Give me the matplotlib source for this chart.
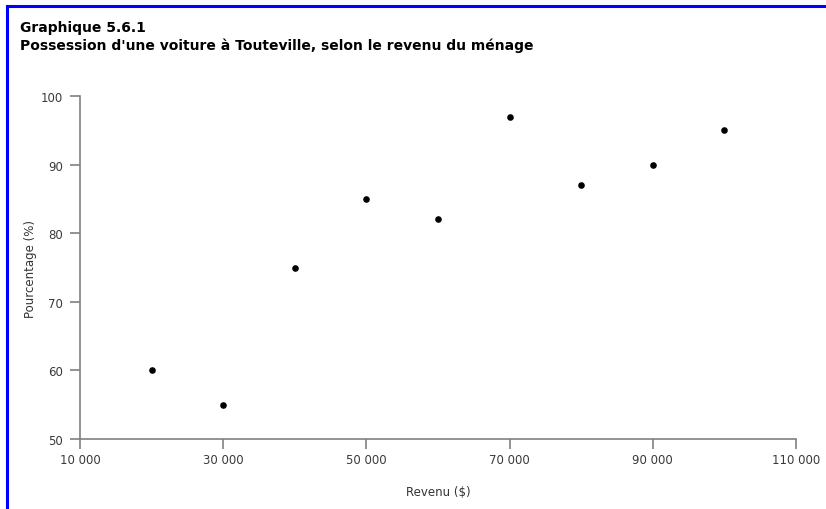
import matplotlib
matplotlib.use("Agg")
import matplotlib.pyplot as plt
from matplotlib.lines import Line2D
from matplotlib.ticker import FuncFormatter

revenu = [20000, 30000, 40000, 50000, 60000, 70000, 80000, 90000, 100000]
pourcentage = [60, 55, 75, 85, 82, 97, 87, 90, 95]
x_ticks = [10000, 30000, 50000, 70000, 90000, 110000]
y_ticks = [50, 60, 70, 80, 90, 100]

fig = plt.figure(figsize=(8.26, 5.10), dpi=100)
ax = fig.add_axes([80 / 826, 70 / 510, 716 / 826, 343 / 510])

ax.scatter(revenu, pourcentage, s=14, color="black", zorder=3)

ax.set_xlim(10000, 110000)
ax.set_ylim(50, 100)
ax.set_xticks(x_ticks)
ax.set_yticks(y_ticks)
ax.xaxis.set_major_formatter(FuncFormatter(lambda v, p: f"{int(v):,}".replace(",", " ")))

gris = "#808080"
for side in ["top", "right"]:
    ax.spines[side].set_visible(False)
for side in ["left", "bottom"]:
    ax.spines[side].set_color(gris)
    ax.spines[side].set_linewidth(1.2)
ax.tick_params(axis="both", colors=gris, length=7, width=1.2, labelsize=8.5,
               labelcolor="#3a3a3a", pad=5)
ax.tick_params(axis="x", pad=3)

ax.set_xlabel("Revenu ($)", fontsize=8.5, color="#333333", labelpad=14)
ax.set_ylabel("Pourcentage (%)", fontsize=8.5, color="#333333", labelpad=3)

fig.text(20 / 826, 1 - 28 / 510, "Graphique 5.6.1", fontsize=10, fontweight="bold",
         va="center", ha="left")
fig.text(20 / 826, 1 - 46 / 510,
         "Possession d'une voiture à Touteville, selon le revenu du ménage",
         fontsize=10, fontweight="bold", va="center", ha="left")

# cadre bleu (haut et gauche)
fig.add_artist(Line2D([7 / 826, 1], [1 - 7 / 510, 1 - 7 / 510], color="blue", lw=2.2,
                      transform=fig.transFigure))
fig.add_artist(Line2D([7 / 826, 7 / 826], [0, 1 - 7 / 510], color="blue", lw=2.2,
                      transform=fig.transFigure))

fig.savefig("out.png", dpi=100)
